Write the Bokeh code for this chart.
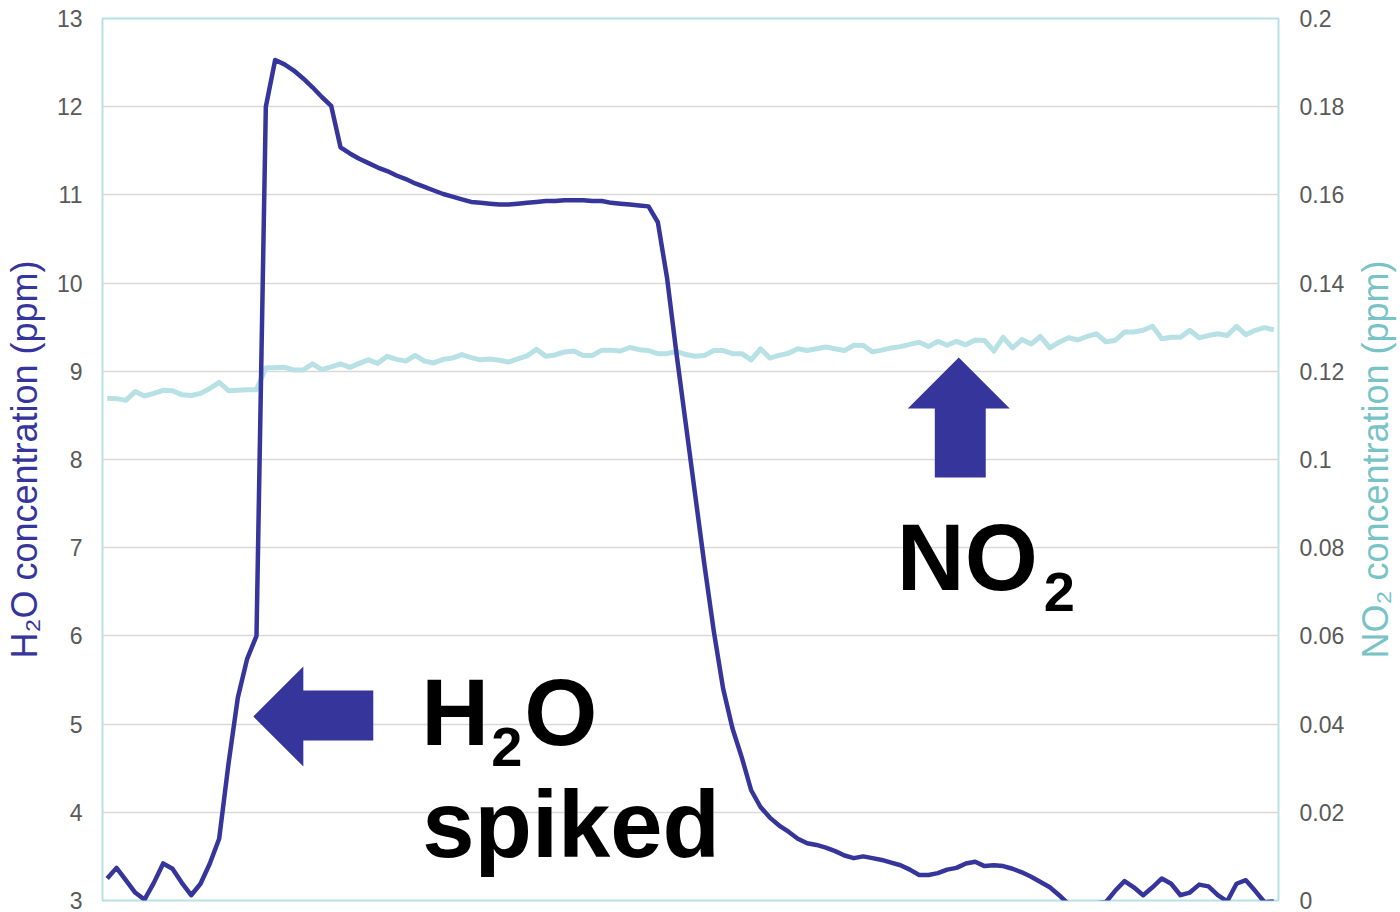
import math
from bokeh.plotting import figure
from bokeh.layouts import row
from bokeh.models import Range1d, LinearAxis, FixedTicker
from bokeh.core.properties import value
from bokeh.embed import file_html
from bokeh.resources import INLINE

# ---------------- data ----------------
h2o_ppm = [3.25, 3.37, 3.23, 3.09, 3.01, 3.20, 3.42, 3.36, 3.20, 3.06, 3.19, 3.42, 3.70, 4.55, 5.30, 5.74, 6.00,
           12.00, 12.53, 12.48, 12.41, 12.32, 12.22, 12.11, 12.01, 11.54,
           11.47, 11.41, 11.36, 11.31, 11.27, 11.22, 11.18, 11.13, 11.09, 11.05, 11.01, 10.98, 10.95, 10.92,
           10.91, 10.90, 10.89, 10.89, 10.90, 10.91, 10.92, 10.93, 10.93, 10.94, 10.94, 10.94, 10.93, 10.93,
           10.91, 10.90, 10.89, 10.88, 10.87,
           10.69, 10.05, 9.20, 8.40, 7.60, 6.80, 6.05, 5.40, 4.95, 4.62, 4.25, 4.06,
           3.94, 3.85, 3.78, 3.70, 3.65, 3.63, 3.60, 3.56, 3.51, 3.48, 3.50, 3.48, 3.46, 3.43, 3.40, 3.35,
           3.29, 3.29, 3.31, 3.35, 3.37, 3.42, 3.44, 3.39, 3.40, 3.39, 3.36, 3.32, 3.27, 3.21, 3.15, 3.06,
           2.96, 2.95, 2.96, 2.97, 2.98, 3.11, 3.22, 3.15, 3.06, 3.15, 3.25, 3.19, 3.06, 3.09, 3.18, 3.16,
           3.06, 2.99, 3.19, 3.23, 3.11, 2.98, 2.99]

no2_ppm = [0.1139, 0.1138, 0.1134, 0.1154, 0.1144, 0.1150, 0.1157, 0.1156, 0.1147, 0.1145, 0.1150, 0.1161,
           0.1175, 0.1156, 0.1157, 0.1158, 0.1158,
           0.1208, 0.1208, 0.1209, 0.1203, 0.1203, 0.1217, 0.1204, 0.1210, 0.1217, 0.1209, 0.1218, 0.1226,
           0.1218, 0.1234, 0.1227, 0.1223, 0.1236, 0.1223, 0.1219, 0.1227, 0.1230, 0.1238, 0.1231, 0.1226,
           0.1228, 0.1225, 0.1221, 0.1228, 0.1235, 0.1250, 0.1234, 0.1237, 0.1244, 0.1246, 0.1236, 0.1236,
           0.1248, 0.1248, 0.1246, 0.1254, 0.1249, 0.1247, 0.1240, 0.1240, 0.1245, 0.1238, 0.1234, 0.1236,
           0.1247, 0.1247, 0.1240, 0.1240, 0.1226, 0.1251, 0.1230, 0.1236, 0.1241, 0.1251, 0.1247, 0.1251,
           0.1255, 0.1251, 0.1247, 0.1259, 0.1259, 0.1244, 0.1248, 0.1253, 0.1256, 0.1261, 0.1266, 0.1256,
           0.1268, 0.1259, 0.1268, 0.1260, 0.1271, 0.1270, 0.1246, 0.1277, 0.1253, 0.1272, 0.1262, 0.1279,
           0.1253, 0.1266, 0.1276, 0.1271, 0.1279, 0.1285, 0.1267, 0.1270, 0.1289, 0.1289, 0.1293, 0.1302,
           0.1274, 0.1277, 0.1277, 0.1293, 0.1276, 0.1281, 0.1285, 0.1281, 0.1302, 0.1283, 0.1293, 0.1299,
           0.1294]

left_ticks = [3, 4, 5, 6, 7, 8, 9, 10, 11, 12, 13]
right_ticks = [0, 0.02, 0.04, 0.06, 0.08, 0.1, 0.12, 0.14, 0.16, 0.18, 0.2]
right_tick_labels = ["0", "0.02", "0.04", "0.06", "0.08", "0.1", "0.12", "0.14", "0.16", "0.18", "0.2"]

left_title = "H\u2082O concentration (ppm)"
right_title = "NO\u2082 concentration (ppm)"

# ---------------- styles ----------------
DARK = "#35359B"
CYAN_LINE = "#B7E1E4"
CYAN_TEXT = "#78C3C6"
FONT = "Liberation Sans"

n = len(h2o_ppm)
xs = list(range(n))

p = figure(width=1350, height=912, output_backend="svg", toolbar_location=None,
           x_range=Range1d(-0.5, n - 0.5), y_range=Range1d(3, 13),
           x_axis_location=None,
           min_border_left=101, min_border_right=72, min_border_top=18, min_border_bottom=12)
p.extra_y_ranges = {"no2": Range1d(0, 0.2)}
p.background_fill_color = "white"
p.border_fill_color = "white"
p.outline_line_color = CYAN_LINE
p.outline_line_width = 2

p.xgrid.visible = False
p.ygrid.ticker = FixedTicker(ticks=left_ticks)
p.ygrid.grid_line_color = "#D9D9D9"
p.ygrid.grid_line_width = 1.5


def plain_axis(ax, standoff):
    ax.axis_line_color = None
    ax.major_tick_line_color = None
    ax.minor_tick_line_color = None
    ax.major_tick_out = 0
    ax.major_tick_in = 0
    ax.major_label_standoff = standoff
    ax.major_label_text_font = FONT
    ax.major_label_text_font_size = "23px"
    ax.major_label_text_color = "#595959"


def title_style(ax, text, color):
    ax.axis_label = text
    ax.axis_label_text_font = FONT
    ax.axis_label_text_font_size = "36px"
    ax.axis_label_text_font_style = "normal"
    ax.axis_label_text_color = color


la = p.yaxis[0]
la.ticker = FixedTicker(ticks=left_ticks)
plain_axis(la, 20)
title_style(la, left_title, DARK)
la.axis_label_standoff = 9

ra = LinearAxis(y_range_name="no2", ticker=FixedTicker(ticks=right_ticks),
                major_label_overrides={t: s for t, s in zip(right_ticks, right_tick_labels)})
plain_axis(ra, 21)
p.add_layout(ra, "right")

# ---------------- series ----------------
p.line(xs, no2_ppm, y_range_name="no2", line_color=CYAN_LINE, line_width=5, line_join="round")
p.line(xs, h2o_ppm, line_color=DARK, line_width=4.5, line_join="round")

# ---------------- annotations (page pixel -> data) ----------------
def dx(px):
    return -0.5 + (px - 101) / (1177 / n)

def dy(py):
    return 3 + (900 - py) / 88.2

def arrow(pts):
    p.patch([dx(a) for a, b in pts], [dy(b) for a, b in pts], fill_color=DARK, line_color=None)

arrow([(252, 716), (302, 666), (302, 690), (372, 690), (372, 740), (302, 740), (302, 766)])
arrow([(958, 357), (1009, 408), (985, 408), (985, 477), (934, 477), (934, 408), (907, 408)])

def txt(px, baseline, s, size):
    # bokeh places "alphabetic" text ~0.353 em lower than the given y; compensate
    p.text(x=[dx(px)], y=[dy(baseline - 0.353 * size)], text=[s], text_font=value(FONT),
           text_font_style="bold", text_font_size=f"{size}px", text_color="black",
           text_baseline="alphabetic", text_align="left")

txt(420, 745, "H", 94)
txt(490, 766, "2", 56)
txt(523, 745, "O", 94)
txt(421, 857, "spiked", 94)
txt(896, 590, "NO", 94)
txt(1043, 611, "2", 56)

# ---------------- right-hand title strip (reads bottom-to-top like the reference) ----------------
p2 = figure(width=50, height=912, output_backend="svg", toolbar_location=None,
            x_range=Range1d(0, 1), y_range=Range1d(0, 0.2), x_axis_location=None,
            min_border_left=46, min_border_right=0, min_border_top=18, min_border_bottom=12)
p2.outline_line_color = None
p2.background_fill_color = "white"
p2.border_fill_color = "white"
p2.grid.visible = False
ax2 = p2.yaxis[0]
ax2.ticker = FixedTicker(ticks=[])
plain_axis(ax2, 0)
title_style(ax2, right_title, CYAN_TEXT)
ax2.axis_label_standoff = 1

open("out.html", "w").write(file_html(row(p, p2), INLINE))
